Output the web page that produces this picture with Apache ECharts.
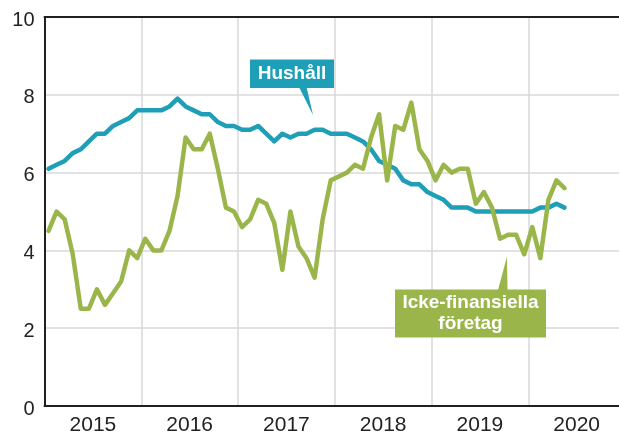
<!DOCTYPE html>
<html>
<head>
<meta charset="utf-8">
<script src="https://cdn.jsdelivr.net/npm/echarts@6/dist/echarts.min.js"></script>
<style>
html,body{margin:0;padding:0;background:#fff;}
#chart{width:619px;height:434px;}
</style>
</head>
<body>
<div id="chart"></div>
<script>
// Monthly data, Jan 2015 onwards
const years = ['2015', '2016', '2017', '2018', '2019', '2020'];
const yTicks = [0, 2, 4, 6, 8, 10];
const hushall = [
  6.1, 6.2, 6.3, 6.5, 6.6, 6.8, 7.0, 7.0, 7.2, 7.3, 7.4, 7.6,
  7.6, 7.6, 7.6, 7.7, 7.9, 7.7, 7.6, 7.5, 7.5, 7.3, 7.2, 7.2,
  7.1, 7.1, 7.2, 7.0, 6.8, 7.0, 6.9, 7.0, 7.0, 7.1, 7.1, 7.0,
  7.0, 7.0, 6.9, 6.8, 6.6, 6.3, 6.2, 6.1, 5.8, 5.7, 5.7, 5.5,
  5.4, 5.3, 5.1, 5.1, 5.1, 5.0, 5.0, 5.0, 5.0, 5.0, 5.0, 5.0,
  5.0, 5.1, 5.1, 5.2, 5.1
];
const foretag = [
  4.5, 5.0, 4.8, 3.9, 2.5, 2.5, 3.0, 2.6, 2.9, 3.2, 4.0, 3.8,
  4.3, 4.0, 4.0, 4.5, 5.4, 6.9, 6.6, 6.6, 7.0, 6.1, 5.1, 5.0,
  4.6, 4.8, 5.3, 5.2, 4.7, 3.5, 5.0, 4.1, 3.8, 3.3, 4.8, 5.8,
  5.9, 6.0, 6.2, 6.1, 6.9, 7.5, 5.8, 7.2, 7.1, 7.8, 6.6, 6.3,
  5.8, 6.2, 6.0, 6.1, 6.1, 5.2, 5.5, 5.1, 4.3, 4.4, 4.4, 3.9,
  4.6, 3.8, 5.3, 5.8, 5.6
];
const seriesNames = ['Hushåll', 'Icke-finansiella\nföretag'];

const TEAL = '#1f9fb7';
const GREEN = '#9ab64b';
const AXIS = '#231f20';
const GRIDC = '#d9d9d9';
const FONT = '"Liberation Sans", Arial, Helvetica, sans-serif';

const toXY = arr => arr.map((v, i) => [i + 0.5, v]);

const chart = echarts.init(document.getElementById('chart'), null, {renderer: 'canvas'});
chart.setOption({
  animation: false,
  backgroundColor: '#fff',
  grid: {left: 44.5, width: 580.5, top: 17, height: 389, containLabel: false, outerBoundsMode: 'none'},
  xAxis: [
    {
      type: 'value', position: 'bottom', min: 0, max: 72, interval: 6,
      axisLine: {show: true, lineStyle: {color: AXIS, width: 2}},
      axisTick: {show: false},
      splitLine: {show: false},
      axisLabel: {
        show: true, color: '#222', fontSize: 21, fontFamily: FONT, margin: 9,
        formatter: v => (v % 12 === 6 ? years[(v - 6) / 12] || '' : '')
      }
    },
    {
      type: 'value', position: 'top', min: 0, max: 72, interval: 12,
      axisLine: {show: true, lineStyle: {color: AXIS, width: 2}},
      axisTick: {show: false},
      axisLabel: {show: false},
      splitLine: {show: true, lineStyle: {color: GRIDC, width: 1.5}}
    }
  ],
  yAxis: {
    type: 'value', min: yTicks[0], max: yTicks[yTicks.length - 1], interval: 2,
    axisLine: {show: true, lineStyle: {color: AXIS, width: 2}},
    axisTick: {show: false},
    splitLine: {show: true, lineStyle: {color: GRIDC, width: 1.5}},
    axisLabel: {color: '#222', fontSize: 20, fontFamily: FONT, margin: 10, verticalAlign: 'top', lineHeight: 6}
  },
  series: [
    {
      name: seriesNames[0], type: 'line', xAxisIndex: 0, data: toXY(hushall),
      showSymbol: false, symbol: 'none', z: 3,
      lineStyle: {color: TEAL, width: 4.5, join: 'round', cap: 'round'}
    },
    {
      name: seriesNames[1], type: 'line', xAxisIndex: 0, data: toXY(foretag),
      showSymbol: false, symbol: 'none', z: 4,
      lineStyle: {color: GREEN, width: 4.5, join: 'round', cap: 'round'}
    }
  ],
  graphic: [
    {type: 'polygon', z: 100, shape: {points: [[299, 87], [306.5, 87], [313, 115]]}, style: {fill: TEAL}},
    {type: 'rect', z: 100, shape: {x: 250, y: 59.5, width: 84, height: 28.5}, style: {fill: TEAL}},
    {type: 'text', z: 101, x: 292, y: 74, style: {text: seriesNames[0], fill: '#fff', font: 'bold 19px ' + FONT, align: 'center', verticalAlign: 'middle'}},
    {type: 'polygon', z: 100, shape: {points: [[498, 290], [507.5, 290], [507, 256.5]]}, style: {fill: GREEN}},
    {type: 'rect', z: 100, shape: {x: 395, y: 289.5, width: 151, height: 48}, style: {fill: GREEN}},
    {type: 'text', z: 101, x: 470.5, y: 313.5, style: {text: seriesNames[1], fill: '#fff', font: 'bold 19px ' + FONT, lineHeight: 21, align: 'center', verticalAlign: 'middle'}}
  ]
});
</script>
</body>
</html>
